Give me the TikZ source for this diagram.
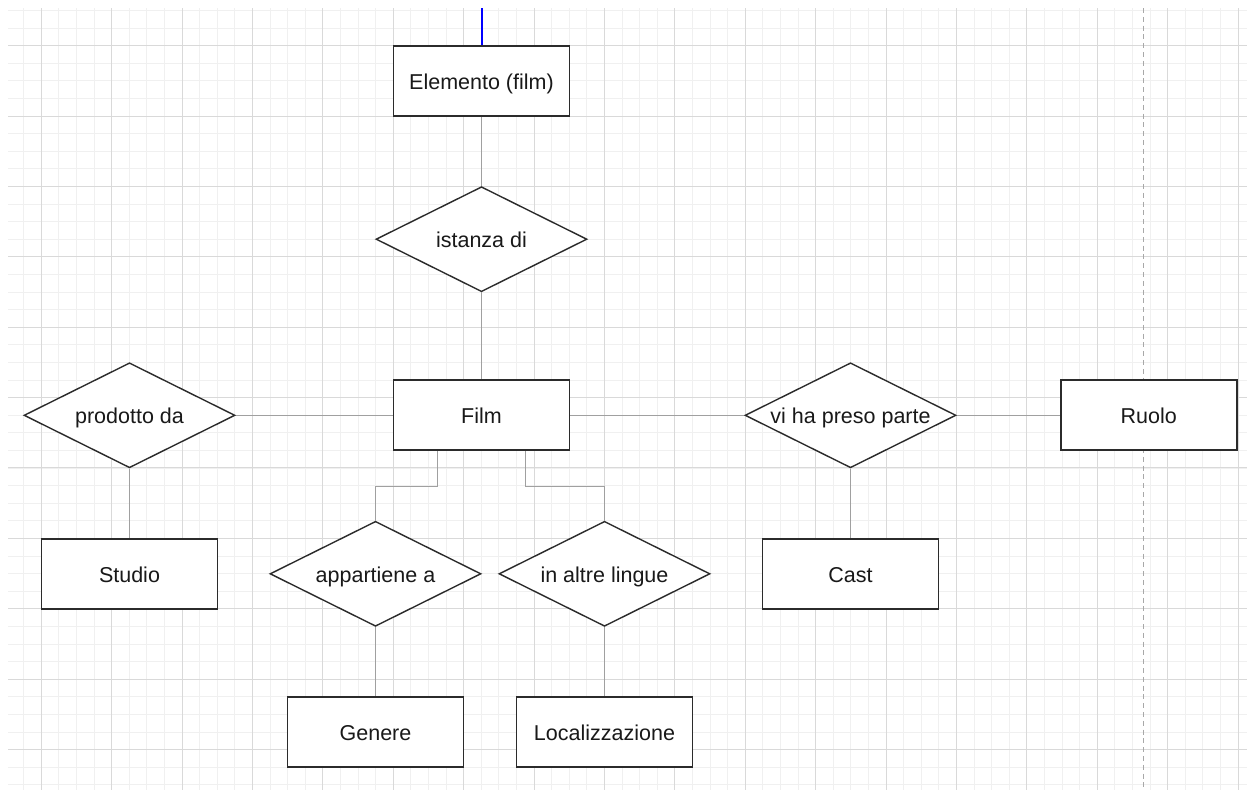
\documentclass[tikz,border=0pt]{standalone}
\usepackage{fontspec}
\setmainfont{Liberation Sans}
\usetikzlibrary{shapes.geometric}
\definecolor{minorgrid}{HTML}{F0F0F0}
\definecolor{majorgrid}{HTML}{D9D9D9}
\definecolor{borderc}{HTML}{2B2B2B}
\definecolor{linkc}{HTML}{A0A0A0}
\definecolor{guidec}{HTML}{A8A8A8}
\definecolor{bluec}{HTML}{0000FF}
\tikzset{
  lbl/.style={font=\fontsize{21.5}{25}\selectfont, text=black!90,
    text height=17pt, text depth=0pt},
  entity/.style={lbl, draw=borderc, line width=1.7pt, fill=white, rectangle,
    minimum width=176pt, minimum height=70pt, inner sep=0pt},
  rel/.style={lbl, draw=borderc, line width=1.4pt, fill=white, diamond, aspect=2,
    minimum width=211pt, minimum height=105pt, inner sep=0pt},
  link/.style={draw=linkc, line width=1.2pt},
  minorline/.style={draw=minorgrid, line width=1pt},
  majorline/.style={draw=majorgrid, line width=1.2pt},
  guide/.style={draw=guidec, line width=1.2pt, dash pattern=on 5pt off 3.8pt}
}
\begin{document}
\begin{tikzpicture}[x=1pt,y=-1pt]
\useasboundingbox (0,0) rectangle (1247,790);
\fill[white] (0,0) rectangle (1247,790);
% minor grid
\foreach \i in {-1,...,68} {
  \pgfmathsetmacro\gx{round(41.3+17.6*\i-0.5)+0.5}
  \draw[minorline] (\gx,8) -- (\gx,790);
}
\foreach \i in {-2,...,42} {
  \pgfmathsetmacro\gy{round(45.6+17.6*\i-0.5)+0.5}
  \draw[minorline] (8,\gy) -- (1247,\gy);
}
% major grid
\foreach \i in {0,...,17} {
  \pgfmathsetmacro\gx{round(41.3+70.4*\i-0.5)+0.5}
  \draw[majorline] (\gx,8) -- (\gx,790);
}
\foreach \i in {0,...,10} {
  \pgfmathsetmacro\gy{round(45.6+70.4*\i-0.5)+0.5}
  \draw[majorline] (8,\gy) -- (1247,\gy);
}
% page-break guide
\coordinate (gtop) at (1143.5,8);
\coordinate (gbot) at (1143.5,790);
\draw[guide] (gtop) -- (gbot);

% nodes
\node[entity] (elem) at (481.5,81) {Elemento (film)};
\node[rel] (ist) at (481.5,239.2) {istanza di};
\node[entity] (film) at (481.5,415.3) {Film};
\node[rel] (prod) at (129.5,415.3) {prodotto da};
\node[rel] (vhpp) at (850.5,415.3) {vi ha preso parte};
\node[entity] (ruolo) at (1148.7,415.3) {Ruolo};
\node[entity] (studio) at (129.5,573.7) {Studio};
\node[entity] (cast) at (850.5,573.7) {Cast};
\node[rel] (app) at (375.5,573.8) {appartiene a};
\node[rel] (alt) at (604.5,573.8) {in altre lingue};
\node[entity] (genere) at (375.5,732) {Genere};
\node[entity] (loc) at (604.5,732) {Localizzazione};

% blue incoming line
\coordinate (blueend) at (481.5,8);
\draw[bluec, line width=2pt] (blueend) -- (elem.north);

% connectors
\draw[link] (elem.south) -- (ist.north);
\draw[link] (ist.south) -- (film.north);
\draw[link] (film.west) -- (prod.east);
\draw[link] (prod.south) -- (studio.north);
\draw[link] (film.east) -- (vhpp.west);
\draw[link] (vhpp.east) -- (ruolo.west);
\draw[link] (vhpp.south) -- (cast.north);
\draw[link] ([xshift=-44pt]film.south) -- ++(0,35) -| (app.north);
\draw[link] ([xshift=44pt]film.south) -- ++(0,35) -| (alt.north);
\draw[link] (app.south) -- (genere.north);
\draw[link] (alt.south) -- (loc.north);
\end{tikzpicture}
\end{document}
